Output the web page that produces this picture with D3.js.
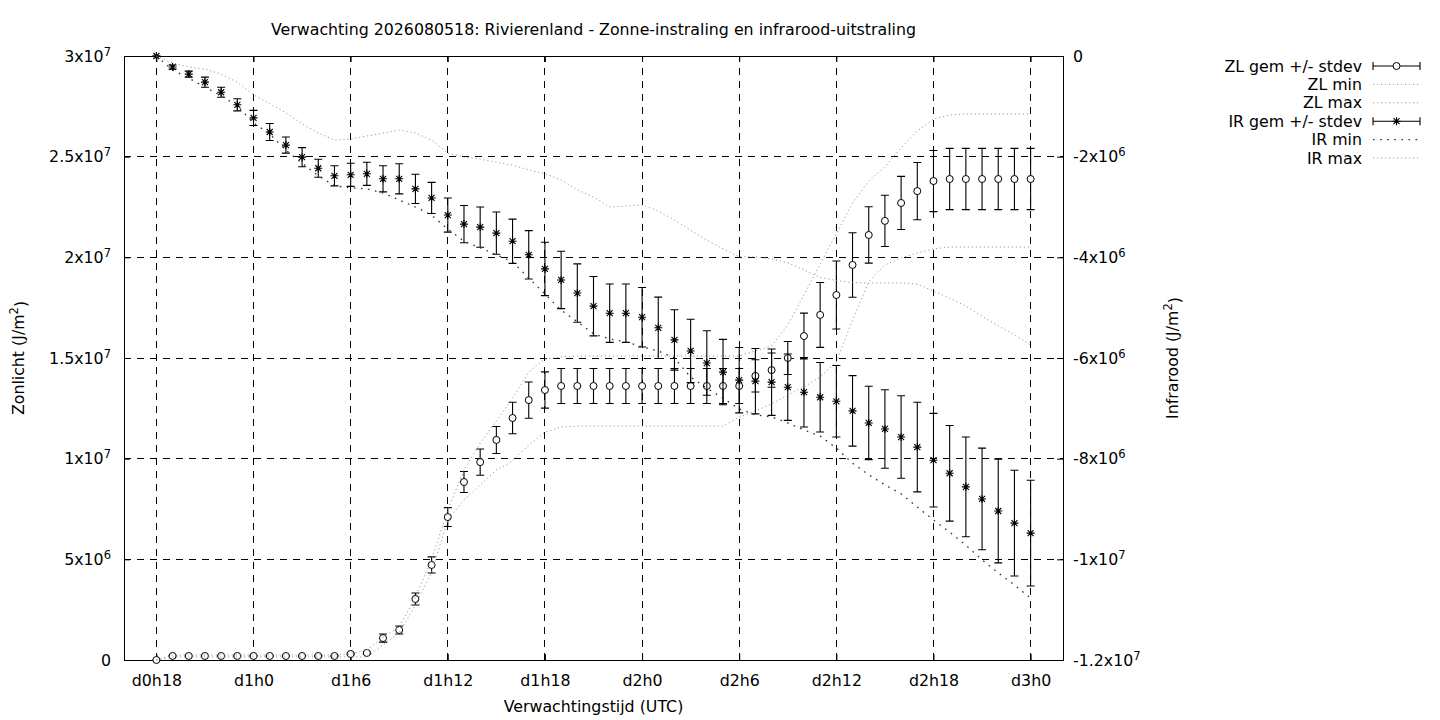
<!DOCTYPE html>
<html>
<head>
<meta charset="utf-8">
<script src="https://cdn.jsdelivr.net/npm/d3@7"></script>
<style>
  body { margin: 0; background: #fff; }
  text { font-family: "DejaVu Sans", sans-serif; font-size: 15.8px; fill: #000; }
</style>
</head>
<body>
<svg id="chart" width="1440" height="720"></svg>
<script>
// uren na d0h18 (elk uur een waarde)
const hours = [0,1,2,3,4,5,6,7,8,9,10,11,12,13,14,15,16,17,18,19,20,21,22,23,24,25,26,27,
  28,29,30,31,32,33,34,35,36,37,38,39,40,41,42,43,44,45,46,47,48,49,50,51,52,53,54];

// alle waarden in 1e6 J/m2
const zlMean = [0, 0.2,0.2,0.2,0.2,0.2,0.2,0.2,0.2,0.2,0.2,0.2, 0.3,0.35,
  1.09,1.49,3.03,4.72,7.10,8.84,9.83,10.93,12.02,12.91,13.41,
  13.61,13.61,13.61,13.61,13.61,13.61,13.61,13.61,13.61,13.61,13.61,13.61,
  14.11,14.40,15.0,16.09,17.14,18.13,19.62,21.11,21.81,22.70,23.29,23.79,
  23.89,23.89,23.89,23.89,23.89,23.89];
const zlSd = [0, 0.03,0.03,0.03,0.03,0.03,0.03,0.03,0.03,0.03,0.03,0.03, 0.04,0.06,
  0.2,0.2,0.3,0.4,0.47,0.52,0.65,0.67,0.78,0.9,0.9,
  0.87,0.87,0.87,0.87,0.87,0.87,0.87,0.87,0.87,0.87,0.87,0.87,
  0.8,0.85,0.82,1.14,1.61,1.69,1.6,1.4,1.27,1.32,1.42,1.52,
  1.52,1.52,1.52,1.52,1.52,1.52];
const zlMin = [0, 0.15,0.15,0.15,0.15,0.15,0.15,0.15,0.15,0.15,0.15,0.15, 0.15,0.15,
  0.75,1.35,2.73,4.37,6.95,7.95,8.69,9.44,9.88,10.68,11.32,
  11.57, 11.62,11.62,11.62,11.62,11.62,11.62,11.62,11.62,11.62,11.62,
  12.07,12.37,12.72,13.16,13.56,14.06,14.8,16.89,18.78,19.62,19.97,20.22,20.42,
  20.51,20.51,20.51,20.51,20.51,20.51];
const zlMax = [0, 0.25,0.25,0.25,0.25,0.25,0.25,0.25,0.25,0.25,0.25,0.25,
  0.3,0.5,1.14,1.65,3.1,5.0,7.45,9.44,10.78,11.87,13.01,14.3,14.95,
  15.05, 15.1,15.1,15.1,15.1,15.1,15.1,15.1,15.1,15.1,15.1,15.1,
  15.35,15.6,16.64,18.13,19.67,21.16,22.7,23.79,24.49,25.43,26.27,26.87,
  27.07,27.12,27.12,27.12,27.12,27.12];

const irMean = [0,-0.22,-0.36,-0.52,-0.72,-0.97,-1.23,-1.51,-1.77,-2.01,-2.23,-2.38,-2.36,-2.34,
  -2.44,-2.44,-2.64,-2.82,-3.16,-3.34,-3.40,-3.52,-3.68,-3.95,-4.23,-4.45,-4.71,-4.97,
  -5.11,-5.11,-5.19,-5.40,-5.64,-5.86,-6.10,-6.28,-6.44,-6.46,-6.48,-6.58,-6.68,-6.78,
  -6.86,-7.05,-7.29,-7.41,-7.57,-7.77,-8.03,-8.29,-8.56,-8.80,-9.04,-9.28,-9.48];
const irSd = [0,0.04,0.06,0.1,0.1,0.12,0.15,0.17,0.16,0.19,0.18,0.2,0.23,0.23,
  0.26,0.3,0.29,0.31,0.34,0.37,0.40,0.42,0.44,0.48,0.53,0.57,0.58,0.59,
  0.58,0.58,0.59,0.61,0.60,0.63,0.64,0.65,0.65,0.65,0.66,0.66,0.69,0.69,
  0.71,0.70,0.73,0.78,0.82,0.89,0.93,0.95,0.99,1.01,1.03,1.05,1.05];
const irMin = [0,-0.28,-0.44,-0.62,-0.79,-0.99,-1.33,-1.55,-1.87,-2.13,-2.38,-2.58,-2.62,-2.64,
  -2.72,-2.86,-3.0,-3.16,-3.44,-3.68,-3.81,-3.95,-4.09,-4.41,-4.73,-5.05,-5.28,-5.52,
  -5.62,-5.68,-5.78,-5.86,-6.0,-6.38,-6.60,-6.80,-7.01,-7.13,-7.17,-7.29,-7.43,-7.55,
  -7.79,-8.09,-8.32,-8.52,-8.70,-8.96,-9.22,-9.46,-9.72,-10.01,-10.27,-10.51,-10.77];
const irMax = [0,-0.14,-0.22,-0.26,-0.36,-0.52,-0.77,-0.95,-1.13,-1.35,-1.53,-1.67,-1.65,-1.59,
  -1.53,-1.47,-1.53,-1.67,-1.93,-2.01,-2.05,-2.11,-2.17,-2.26,-2.34,-2.46,-2.66,-2.80,
  -3.0,-2.98,-2.96,-3.08,-3.26,-3.46,-3.66,-3.83,-3.99,-3.99,-4.03,-4.11,-4.25,-4.40,
  -4.46,-4.50,-4.51,-4.51,-4.51,-4.53,-4.67,-4.81,-4.97,-5.17,-5.36,-5.54,-5.74];

const xTicks = [0,6,12,18,24,30,36,42,48,54];
const xTickLabels = ["d0h18","d1h0","d1h6","d1h12","d1h18","d2h0","d2h6","d2h12","d2h18","d3h0"];
const leftTicks = [0,5e6,1e7,1.5e7,2e7,2.5e7,3e7];
const rightTicks = [0,-2e6,-4e6,-6e6,-8e6,-1e7,-1.2e7];

const UNIT = 1e6;
const svg = d3.select("#chart");
const L = 124, R = 1063, T = 56, B = 660;

const x = d3.scaleLinear().domain([-2, 56]).range([L, R]);
const yL = d3.scaleLinear().domain([0, 3e7]).range([B, T]);
const yR = d3.scaleLinear().domain([-1.2e7, 0]).range([B, T]);

// tekst als 2.5x10^7
function sciLabel(sel, v) {
  sel.text(null);
  if (v === 0) { sel.text("0"); return; }
  const e = Math.floor(Math.log10(Math.abs(v)) + 1e-9);
  const m = +(v / Math.pow(10, e)).toFixed(2);
  sel.append("tspan").text(m + "x10");
  sel.append("tspan").attr("dy", "-0.5em").style("font-size", "11.5px").text(e);
}

// grid
const grid = svg.append("g").attr("stroke", "#000").attr("stroke-width", 1)
  .attr("stroke-dasharray", "7,6").attr("shape-rendering", "crispEdges");
grid.selectAll("line.v").data(xTicks).join("line").attr("class", "v")
  .attr("x1", d => x(d)).attr("x2", d => x(d)).attr("y1", B).attr("y2", T);
grid.selectAll("line.h").data(leftTicks).join("line").attr("class", "h")
  .attr("x1", L).attr("x2", R).attr("y1", d => yL(d)).attr("y2", d => yL(d));

// assen
svg.append("g").attr("transform", `translate(0,${B})`)
  .call(d3.axisBottom(x).tickValues(xTicks).tickSizeInner(-6).tickSizeOuter(0).tickPadding(15)
    .tickFormat((d, i) => xTickLabels[i]));
svg.append("g").attr("transform", `translate(0,${T})`)
  .call(d3.axisTop(x).tickValues(xTicks).tickSizeInner(-6).tickSizeOuter(0).tickFormat(() => ""));
const gl = svg.append("g").attr("transform", `translate(${L},0)`)
  .call(d3.axisLeft(yL).tickValues(leftTicks).tickSizeInner(-6).tickSizeOuter(0).tickPadding(13));
gl.selectAll(".tick text").each(function(d) { sciLabel(d3.select(this), d); });
const gr = svg.append("g").attr("transform", `translate(${R},0)`)
  .call(d3.axisRight(yR).tickValues(rightTicks).tickSizeInner(-6).tickSizeOuter(0).tickPadding(10));
gr.selectAll(".tick text").each(function(d) { sciLabel(d3.select(this), d); });

svg.selectAll(".domain").remove();
svg.selectAll(".tick text").attr("font-family", null).attr("font-size", null);
svg.selectAll(".tick line").attr("stroke", "#000");

svg.append("rect").attr("x", L).attr("y", T).attr("width", R - L).attr("height", B - T)
  .attr("fill", "none").attr("stroke", "#000").attr("stroke-width", 1).attr("shape-rendering", "crispEdges");

// titels
svg.append("text").attr("x", (L + R) / 2).attr("y", 35).attr("text-anchor", "middle")
  .text("Verwachting 2026080518: Rivierenland - Zonne-instraling en infrarood-uitstraling");
svg.append("text").attr("x", (L + R) / 2).attr("y", 712).attr("text-anchor", "middle")
  .text("Verwachtingstijd (UTC)");

function unitTitle(xPos, label) {
  const t = svg.append("text").attr("transform", `translate(${xPos},${(T + B) / 2}) rotate(-90)`)
    .attr("text-anchor", "middle").attr("dy", "0.35em");
  t.append("tspan").text(label + " (J/m");
  t.append("tspan").attr("dy", "-0.5em").style("font-size", "11.5px").text("2");
  t.append("tspan").attr("dy", "0.5em").text(")");
}
unitTitle(18, "Zonlicht");
unitTitle(1172, "Infrarood");

// series
const starPath = "M-4,0h8M0,-4v8M-3,-3l6,6M-3,3l6,-6";

function errorSeries(mean, sd, y, mark) {
  const rows = hours.map((h, i) => ({ h, m: mean[i] * UNIT, s: sd[i] * UNIT }));
  const g = svg.append("g");
  g.selectAll("path.eb").data(rows).join("path").attr("class", "eb")
    .attr("fill", "none").attr("stroke", "#000").attr("stroke-width", 1.1)
    .attr("d", d => {
      const cx = x(d.h), y0 = y(d.m - d.s), y1 = y(d.m + d.s);
      return `M${cx},${y0}V${y1}M${cx - 4},${y0}h8M${cx - 4},${y1}h8`;
    });
  if (mark === "circle") {
    g.selectAll("circle").data(rows).join("circle")
      .attr("cx", d => x(d.h)).attr("cy", d => y(d.m)).attr("r", 3.5)
      .attr("fill", "#fff").attr("stroke", "#000").attr("stroke-width", 1);
  } else {
    g.selectAll("path.pt").data(rows).join("path").attr("class", "pt")
      .attr("transform", d => `translate(${x(d.h)},${y(d.m)})`)
      .attr("d", starPath).attr("stroke", "#000").attr("stroke-width", 1.1);
  }
}

function lineSeries(vals, y, style) {
  const line = d3.line().x((d, i) => x(hours[i])).y(d => y(d * UNIT));
  svg.append("path").datum(vals).attr("fill", "none")
    .attr("stroke", style.color).attr("stroke-width", style.width)
    .attr("stroke-dasharray", style.dash).attr("d", line);
}

const grayDot = { color: "#9a9a9a", width: 1, dash: "1.2,2.8" };
const blackDot = { color: "#333", width: 1.3, dash: "1.6,5.5" };

errorSeries(zlMean, zlSd, yL, "circle");
lineSeries(zlMin, yL, grayDot);
lineSeries(zlMax, yL, grayDot);
errorSeries(irMean, irSd, yR, "star");
lineSeries(irMin, yR, blackDot);
lineSeries(irMax, yR, grayDot);

// legenda
const legendItems = [
  { label: "ZL gem +/- stdev", kind: "circle" },
  { label: "ZL min", kind: "line", style: grayDot },
  { label: "ZL max", kind: "line", style: grayDot },
  { label: "IR gem +/- stdev", kind: "star" },
  { label: "IR min", kind: "line", style: blackDot },
  { label: "IR max", kind: "line", style: grayDot }
];
const lg = svg.append("g");
legendItems.forEach((it, i) => {
  const yy = 66 + i * 18.4;
  lg.append("text").attr("x", 1362).attr("y", yy).attr("dy", "0.35em").attr("text-anchor", "end").text(it.label);
  const x0 = 1373, x1 = 1420, xm = (x0 + x1) / 2;
  if (it.kind === "line") {
    lg.append("line").attr("x1", x0).attr("x2", x1).attr("y1", yy).attr("y2", yy)
      .attr("stroke", it.style.color).attr("stroke-width", it.style.width)
      .attr("stroke-dasharray", it.style.dash);
  } else {
    lg.append("path").attr("fill", "none").attr("stroke", "#000").attr("stroke-width", 1.1)
      .attr("d", `M${x0},${yy}H${x1}M${x0},${yy - 4}v8M${x1},${yy - 4}v8`);
    if (it.kind === "circle") {
      lg.append("circle").attr("cx", xm).attr("cy", yy).attr("r", 3.5)
        .attr("fill", "#fff").attr("stroke", "#000");
    } else {
      lg.append("path").attr("transform", `translate(${xm},${yy})`).attr("d", starPath)
        .attr("stroke", "#000").attr("stroke-width", 1.1);
    }
  }
});
</script>
</body>
</html>
